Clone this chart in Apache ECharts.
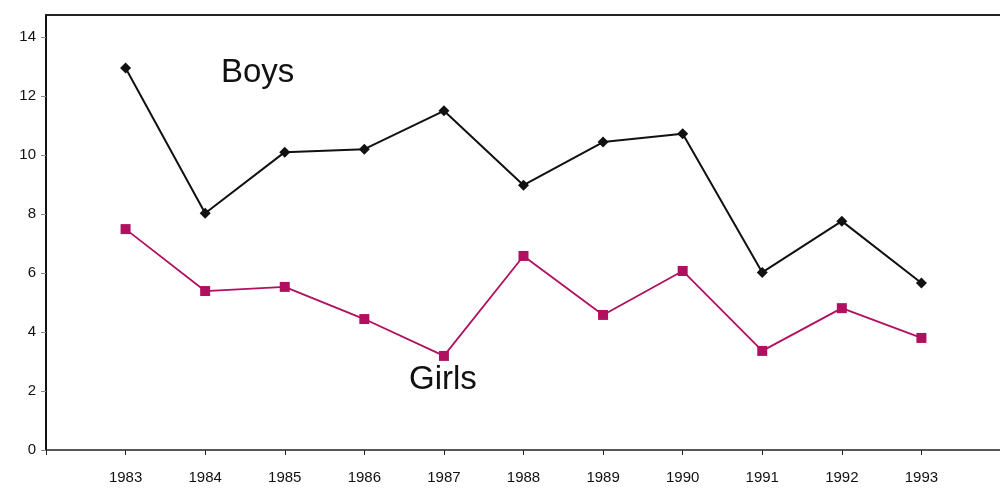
<!DOCTYPE html>
<html><head><meta charset="utf-8">
<script src="https://cdn.jsdelivr.net/npm/echarts@6/dist/echarts.min.js"></script>
<style>html,body{margin:0;padding:0;background:#fff;overflow:hidden}#c{width:1004px;height:489px}</style>
</head><body><div id="c"></div>
<script>
const years = [1983,1984,1985,1986,1987,1988,1989,1990,1991,1992,1993];
const boys = [12.95,8.03,10.1,10.2,11.5,8.98,10.44,10.72,6.02,7.76,5.66];
const girls = [7.49,5.39,5.53,4.44,3.19,6.58,4.58,6.07,3.36,4.81,3.8];
const yTicks = [0,2,4,6,8,10,12,14];

const chart = echarts.init(document.getElementById('c'));
chart.setOption({
  animation:false,
  grid:{left:46,right:0,top:15,bottom:39},
  xAxis:[{
    type:'value', min:1982, max:1994, interval:1,
    axisLine:{lineStyle:{color:'#222',width:1.5}},
    axisTick:{length:5,lineStyle:{color:'#222'}},
    splitLine:{show:false},
    axisLabel:{margin:20,color:'#111',fontSize:15,fontFamily:'Liberation Sans, Arial',
      formatter:v=>years.indexOf(v)>=0?String(v):''}
  },{
    type:'value', position:'top', min:1982, max:1994,
    axisLine:{show:true,lineStyle:{color:'#222',width:2}},
    axisTick:{show:false}, axisLabel:{show:false}, splitLine:{show:false}
  }],
  yAxis:{
    type:'value', min:0, max:14.75, interval:2,
    axisLine:{show:true,lineStyle:{color:'#111',width:2}},
    axisTick:{show:true,length:5,lineStyle:{color:'#888'}},
    splitLine:{show:false},
    axisLabel:{margin:10,color:'#111',fontSize:15,fontFamily:'Liberation Sans, Arial',
      showMaxLabel:false,
      formatter:v=>yTicks.indexOf(v)>=0?String(v):''}
  },
  series:[{
    type:'line', data:years.map((y,i)=>[y,boys[i]]),
    symbol:'diamond', symbolSize:11,
    lineStyle:{color:'#111',width:2}, itemStyle:{color:'#111'}
  },{
    type:'line', data:years.map((y,i)=>[y,girls[i]]),
    symbol:'rect', symbolSize:10,
    lineStyle:{color:'#b0105f',width:1.8}, itemStyle:{color:'#b0105f'}
  }],
  graphic:[
    {type:'text',left:221,top:56,style:{text:'Boys',fontSize:33,fill:'#111',fontFamily:'Liberation Sans, Arial'}},
    {type:'text',left:409,top:363,style:{text:'Girls',fontSize:33,fill:'#111',fontFamily:'Liberation Sans, Arial'}}
  ]
});
</script></body></html>
